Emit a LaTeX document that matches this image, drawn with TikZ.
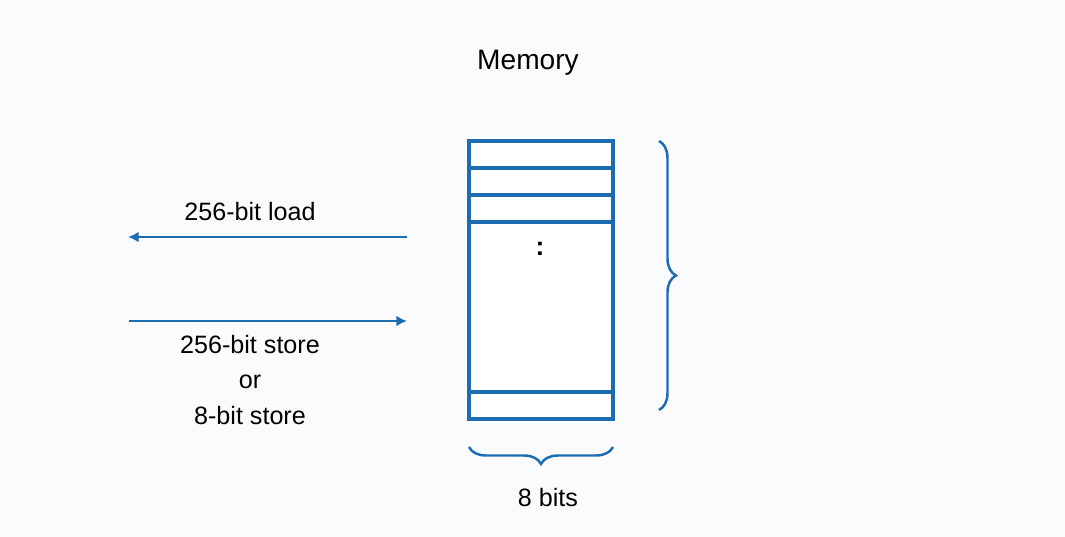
\documentclass[tikz,border=0pt]{standalone}
\usepackage{fontspec}
\setmainfont{Liberation Sans}
\usepackage{tikz}
\usetikzlibrary{positioning}
\usetikzlibrary{calc,arrows.meta,shadows}
\usetikzlibrary{decorations.pathreplacing}

\definecolor{membg}{RGB}{251,251,254}
\definecolor{memblue}{RGB}{28,108,178}

\tikzset{
	memcell/.style = {draw=memblue, line width=1.8pt, fill=white, minimum width=2.88cm, minimum height=5.56cm, inner sep=0pt,
		drop shadow={shadow xshift=0.05cm, shadow yshift=-0.05cm, opacity=0.25}},
	memrow/.style = {draw=memblue, line width=2pt},
	memflow/.style = {draw=memblue, line width=1.1pt, -{Latex[length=6pt,width=6pt]}},
	membrace/.style = {draw=memblue, line width=1.4pt, decorate, decoration={brace, amplitude=0.34cm}},
	memtext/.style = {font=\fontsize{14.3pt}{17pt}\selectfont, inner sep=0pt},
}

\begin{document}
\begin{tikzpicture}[x=0.02cm, y=-0.02cm]
	
	% ------------------------------------------------
	% Page size and background
	\fill[membg] (0,0) rectangle (1065,537);
	\useasboundingbox (0,0) rectangle (1065,537);
	
	% ------------------------------------------------
	% Memory block
	\node[memcell] (Mem) at (541,280) {};
	
	\foreach \rowy in {168,195,222,392}
		\draw[memrow] (Mem.west |- 0,\rowy) -- (Mem.east |- 0,\rowy);
	
	\node[memtext, font=\fontsize{16pt}{19pt}\selectfont] (MemTitle) at (528,63) {Memory};
	\node[memtext, font=\fontsize{15pt}{18pt}\selectfont\bfseries] (Dots) at (540,249) {:};
	
	% ------------------------------------------------
	% Load and store arrows
	\coordinate (LoadR) at (407,237);
	\coordinate (LoadL) at (128,237);
	\coordinate (StoreL) at (129,321);
	\coordinate (StoreR) at (407,321);
	
	\draw[memflow] (LoadR) -- (LoadL);
	\draw[memflow] (StoreL) -- (StoreR);
	
	\node[memtext] (LoadText) at (250,212) {256-bit load};
	\node[memtext] (StoreText) at (250,345) {256-bit store};
	\node[memtext] (OrText) at (250,382) {or};
	\node[memtext] (ByteText) at (250,416) {8-bit store};
	
	% ------------------------------------------------
	% Braces
	\coordinate (HeightT) at (659,141);
	\coordinate (HeightB) at (659,410);
	\coordinate (WidthR) at (613,447);
	\coordinate (WidthL) at (469,447);
	
	\draw[membrace] (HeightT) -- (HeightB);
	\draw[membrace] (WidthR) -- (WidthL);
	
	\node[memtext] (WidthText) at (548,498) {8 bits};
	
\end{tikzpicture}
\end{document}
